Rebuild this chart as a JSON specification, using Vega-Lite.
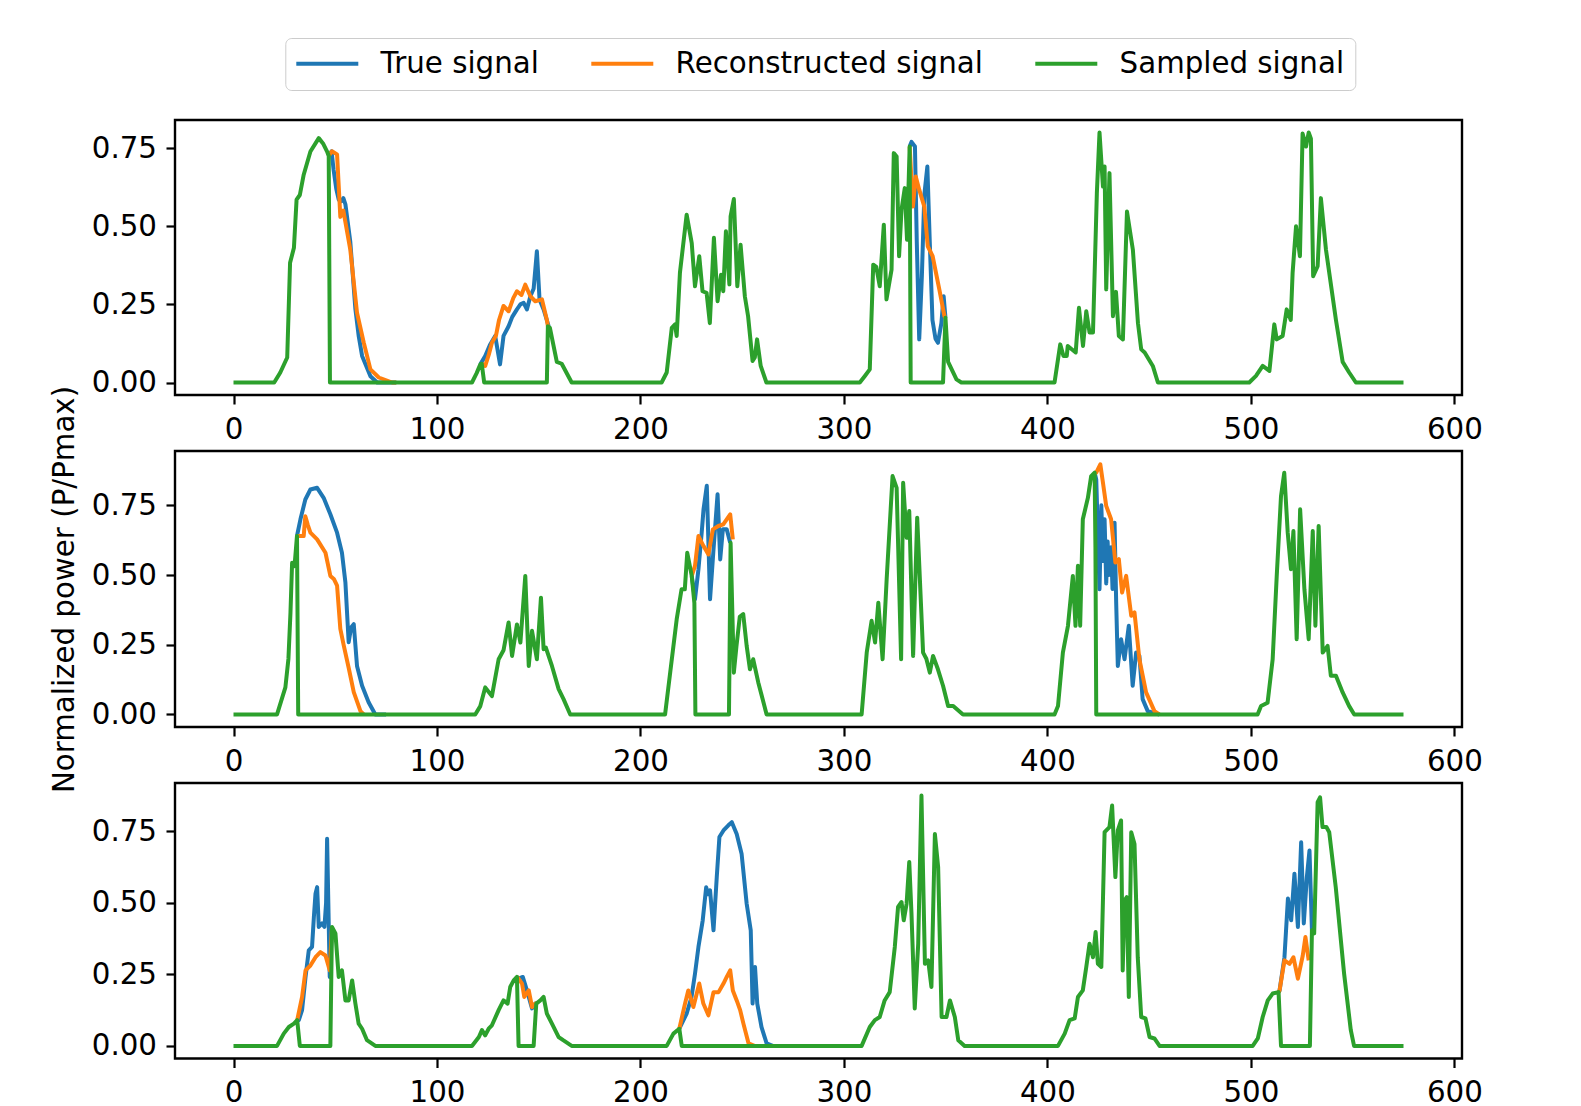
{
"$schema": "https://vega.github.io/schema/vega-lite/v6.json",
"background": "white",
"padding": {"left": 49, "top": 37, "right": 10, "bottom": 5},
"datasets": {
"p1": [
{"s":"True signal","g":"b1","x":46.8,"y":0.725},{"s":"True signal","g":"b1","x":48.2,"y":0.74},{"s":"True signal","g":"b1","x":49.2,"y":0.68},{"s":"True signal","g":"b1","x":50.5,"y":0.62},{"s":"True signal","g":"b1","x":51.7,"y":0.585},{"s":"True signal","g":"b1","x":53,"y":0.58},{"s":"True signal","g":"b1","x":54,"y":0.59},{"s":"True signal","g":"b1","x":55,"y":0.57},{"s":"True signal","g":"b1","x":56,"y":0.52},{"s":"True signal","g":"b1","x":57.4,"y":0.45},{"s":"True signal","g":"b1","x":59.9,"y":0.235},{"s":"True signal","g":"b1","x":61.5,"y":0.15},{"s":"True signal","g":"b1","x":63.2,"y":0.085},{"s":"True signal","g":"b1","x":67.3,"y":0.02},{"s":"True signal","g":"b1","x":70.6,"y":0},{"s":"True signal","g":"b1","x":80,"y":0},
{"s":"True signal","g":"b2","x":121.3,"y":0.058},{"s":"True signal","g":"b2","x":123.7,"y":0.085},{"s":"True signal","g":"b2","x":126,"y":0.12},{"s":"True signal","g":"b2","x":128.6,"y":0.149},{"s":"True signal","g":"b2","x":131,"y":0.058},{"s":"True signal","g":"b2","x":132.7,"y":0.149},{"s":"True signal","g":"b2","x":135.2,"y":0.18},{"s":"True signal","g":"b2","x":137,"y":0.21},{"s":"True signal","g":"b2","x":139.3,"y":0.234},{"s":"True signal","g":"b2","x":141,"y":0.25},{"s":"True signal","g":"b2","x":142.6,"y":0.255},{"s":"True signal","g":"b2","x":144.2,"y":0.234},{"s":"True signal","g":"b2","x":145.9,"y":0.276},{"s":"True signal","g":"b2","x":147.5,"y":0.3},{"s":"True signal","g":"b2","x":149.1,"y":0.42},{"s":"True signal","g":"b2","x":150.4,"y":0.266},{"s":"True signal","g":"b2","x":152.4,"y":0.234},{"s":"True signal","g":"b2","x":154.9,"y":0.18},
{"s":"True signal","g":"b3","x":332.3,"y":0.755},{"s":"True signal","g":"b3","x":333.2,"y":0.77},{"s":"True signal","g":"b3","x":334.9,"y":0.755},{"s":"True signal","g":"b3","x":335.8,"y":0.45},{"s":"True signal","g":"b3","x":337,"y":0.138},{"s":"True signal","g":"b3","x":338.3,"y":0.34},{"s":"True signal","g":"b3","x":339.5,"y":0.6},{"s":"True signal","g":"b3","x":341,"y":0.691},{"s":"True signal","g":"b3","x":342.2,"y":0.446},{"s":"True signal","g":"b3","x":343.5,"y":0.2},{"s":"True signal","g":"b3","x":345,"y":0.14},{"s":"True signal","g":"b3","x":346.2,"y":0.127},{"s":"True signal","g":"b3","x":347.9,"y":0.19},{"s":"True signal","g":"b3","x":349,"y":0.276},{"s":"True signal","g":"b3","x":349.9,"y":0.207},
{"s":"Reconstructed signal","g":"o1","x":46.8,"y":0.725},{"s":"Reconstructed signal","g":"o1","x":48.4,"y":0.74},{"s":"Reconstructed signal","g":"o1","x":50.9,"y":0.73},{"s":"Reconstructed signal","g":"o1","x":52.5,"y":0.53},{"s":"Reconstructed signal","g":"o1","x":54,"y":0.55},{"s":"Reconstructed signal","g":"o1","x":57.4,"y":0.425},{"s":"Reconstructed signal","g":"o1","x":60.7,"y":0.223},{"s":"Reconstructed signal","g":"o1","x":64,"y":0.128},{"s":"Reconstructed signal","g":"o1","x":67.3,"y":0.042},{"s":"Reconstructed signal","g":"o1","x":71.4,"y":0.016},{"s":"Reconstructed signal","g":"o1","x":78,"y":0},{"s":"Reconstructed signal","g":"o1","x":80,"y":0},
{"s":"Reconstructed signal","g":"o2","x":122,"y":0.06},{"s":"Reconstructed signal","g":"o2","x":123.7,"y":0.053},{"s":"Reconstructed signal","g":"o2","x":125.5,"y":0.09},{"s":"Reconstructed signal","g":"o2","x":127,"y":0.127},{"s":"Reconstructed signal","g":"o2","x":129,"y":0.15},{"s":"Reconstructed signal","g":"o2","x":130.5,"y":0.2},{"s":"Reconstructed signal","g":"o2","x":132.7,"y":0.245},{"s":"Reconstructed signal","g":"o2","x":135.2,"y":0.228},{"s":"Reconstructed signal","g":"o2","x":137.5,"y":0.27},{"s":"Reconstructed signal","g":"o2","x":139.3,"y":0.292},{"s":"Reconstructed signal","g":"o2","x":141.5,"y":0.28},{"s":"Reconstructed signal","g":"o2","x":143.4,"y":0.313},{"s":"Reconstructed signal","g":"o2","x":145.9,"y":0.276},{"s":"Reconstructed signal","g":"o2","x":148.3,"y":0.26},{"s":"Reconstructed signal","g":"o2","x":151.6,"y":0.266},{"s":"Reconstructed signal","g":"o2","x":154,"y":0.2},{"s":"Reconstructed signal","g":"o2","x":154.5,"y":0.18},
{"s":"Reconstructed signal","g":"o3","x":332.3,"y":0.755},{"s":"Reconstructed signal","g":"o3","x":333.9,"y":0.563},{"s":"Reconstructed signal","g":"o3","x":335.3,"y":0.659},{"s":"Reconstructed signal","g":"o3","x":337,"y":0.617},{"s":"Reconstructed signal","g":"o3","x":339.5,"y":0.563},{"s":"Reconstructed signal","g":"o3","x":341.2,"y":0.436},{"s":"Reconstructed signal","g":"o3","x":343.6,"y":0.404},{"s":"Reconstructed signal","g":"o3","x":346.9,"y":0.297},{"s":"Reconstructed signal","g":"o3","x":349.4,"y":0.212},{"s":"Reconstructed signal","g":"o3","x":349.9,"y":0.207},
{"s":"Sampled signal","g":"a","x":0,"y":0},{"s":"Sampled signal","g":"a","x":20,"y":0},{"s":"Sampled signal","g":"a","x":23,"y":0.032},{"s":"Sampled signal","g":"a","x":26.4,"y":0.08},{"s":"Sampled signal","g":"a","x":27.8,"y":0.383},{"s":"Sampled signal","g":"a","x":29.7,"y":0.431},{"s":"Sampled signal","g":"a","x":31,"y":0.585},{"s":"Sampled signal","g":"a","x":32.6,"y":0.6},{"s":"Sampled signal","g":"a","x":34.5,"y":0.665},{"s":"Sampled signal","g":"a","x":37.8,"y":0.739},{"s":"Sampled signal","g":"a","x":41.9,"y":0.782},{"s":"Sampled signal","g":"a","x":44,"y":0.765},{"s":"Sampled signal","g":"a","x":46,"y":0.739},{"s":"Sampled signal","g":"a","x":46.8,"y":0.725},{"s":"Sampled signal","g":"a","x":47.4,"y":0},{"s":"Sampled signal","g":"a","x":117.2,"y":0},{"s":"Sampled signal","g":"a","x":119.5,"y":0.03},{"s":"Sampled signal","g":"a","x":121.3,"y":0.058},{"s":"Sampled signal","g":"a","x":122,"y":0.06},{"s":"Sampled signal","g":"a","x":123.2,"y":0},{"s":"Sampled signal","g":"a","x":154,"y":0},{"s":"Sampled signal","g":"a","x":154.5,"y":0.18},{"s":"Sampled signal","g":"a","x":155.5,"y":0.175},{"s":"Sampled signal","g":"a","x":158.9,"y":0.066},{"s":"Sampled signal","g":"a","x":161.3,"y":0.06},{"s":"Sampled signal","g":"a","x":166.2,"y":0},{"s":"Sampled signal","g":"a","x":210.4,"y":0},{"s":"Sampled signal","g":"a","x":212.9,"y":0.032},{"s":"Sampled signal","g":"a","x":215.4,"y":0.175},{"s":"Sampled signal","g":"a","x":217,"y":0.186},{"s":"Sampled signal","g":"a","x":217.8,"y":0.149},{"s":"Sampled signal","g":"a","x":219.4,"y":0.351},{"s":"Sampled signal","g":"a","x":222.7,"y":0.537},{"s":"Sampled signal","g":"a","x":225.2,"y":0.446},{"s":"Sampled signal","g":"a","x":226.8,"y":0.308},{"s":"Sampled signal","g":"a","x":228.9,"y":0.404},{"s":"Sampled signal","g":"a","x":230.5,"y":0.292},{"s":"Sampled signal","g":"a","x":232.5,"y":0.287},{"s":"Sampled signal","g":"a","x":234.1,"y":0.19},{"s":"Sampled signal","g":"a","x":236.1,"y":0.463},{"s":"Sampled signal","g":"a","x":237.9,"y":0.26},{"s":"Sampled signal","g":"a","x":239.6,"y":0.345},{"s":"Sampled signal","g":"a","x":240.7,"y":0.292},{"s":"Sampled signal","g":"a","x":242,"y":0.484},{"s":"Sampled signal","g":"a","x":243.7,"y":0.314},{"s":"Sampled signal","g":"a","x":244.3,"y":0.532},{"s":"Sampled signal","g":"a","x":245.9,"y":0.587},{"s":"Sampled signal","g":"a","x":247.6,"y":0.308},{"s":"Sampled signal","g":"a","x":249.2,"y":0.441},{"s":"Sampled signal","g":"a","x":251.3,"y":0.276},{"s":"Sampled signal","g":"a","x":252.9,"y":0.212},{"s":"Sampled signal","g":"a","x":255.1,"y":0.069},{"s":"Sampled signal","g":"a","x":256.2,"y":0.08},{"s":"Sampled signal","g":"a","x":257.3,"y":0.138},{"s":"Sampled signal","g":"a","x":259.1,"y":0.053},{"s":"Sampled signal","g":"a","x":261.9,"y":0},{"s":"Sampled signal","g":"a","x":307.8,"y":0},{"s":"Sampled signal","g":"a","x":310.3,"y":0.021},{"s":"Sampled signal","g":"a","x":312.7,"y":0.042},{"s":"Sampled signal","g":"a","x":314.4,"y":0.377},{"s":"Sampled signal","g":"a","x":315.9,"y":0.37},{"s":"Sampled signal","g":"a","x":317.6,"y":0.308},{"s":"Sampled signal","g":"a","x":319.6,"y":0.505},{"s":"Sampled signal","g":"a","x":320.9,"y":0.266},{"s":"Sampled signal","g":"a","x":323.4,"y":0.361},{"s":"Sampled signal","g":"a","x":324.5,"y":0.734},{"s":"Sampled signal","g":"a","x":325.9,"y":0.723},{"s":"Sampled signal","g":"a","x":327.1,"y":0.404},{"s":"Sampled signal","g":"a","x":328.3,"y":0.553},{"s":"Sampled signal","g":"a","x":329.9,"y":0.622},{"s":"Sampled signal","g":"a","x":331,"y":0.457},{"s":"Sampled signal","g":"a","x":332.3,"y":0.755},{"s":"Sampled signal","g":"a","x":332.8,"y":0},{"s":"Sampled signal","g":"a","x":348.7,"y":0},{"s":"Sampled signal","g":"a","x":349.9,"y":0.207},{"s":"Sampled signal","g":"a","x":351.2,"y":0.066},{"s":"Sampled signal","g":"a","x":355.3,"y":0.01},{"s":"Sampled signal","g":"a","x":357.7,"y":0},{"s":"Sampled signal","g":"a","x":403.5,"y":0},{"s":"Sampled signal","g":"a","x":406.3,"y":0.122},{"s":"Sampled signal","g":"a","x":407.9,"y":0.085},{"s":"Sampled signal","g":"a","x":409.5,"y":0.085},{"s":"Sampled signal","g":"a","x":410,"y":0.117},{"s":"Sampled signal","g":"a","x":413.9,"y":0.096},{"s":"Sampled signal","g":"a","x":415.5,"y":0.239},{"s":"Sampled signal","g":"a","x":417.5,"y":0.117},{"s":"Sampled signal","g":"a","x":419.1,"y":0.228},{"s":"Sampled signal","g":"a","x":420.7,"y":0.16},{"s":"Sampled signal","g":"a","x":422.4,"y":0.16},{"s":"Sampled signal","g":"a","x":424.3,"y":0.606},{"s":"Sampled signal","g":"a","x":425.6,"y":0.8},{"s":"Sampled signal","g":"a","x":427.3,"y":0.627},{"s":"Sampled signal","g":"a","x":428.1,"y":0.691},{"s":"Sampled signal","g":"a","x":428.9,"y":0.298},{"s":"Sampled signal","g":"a","x":430.5,"y":0.67},{"s":"Sampled signal","g":"a","x":432.2,"y":0.212},{"s":"Sampled signal","g":"a","x":433.7,"y":0.29},{"s":"Sampled signal","g":"a","x":435.1,"y":0.149},{"s":"Sampled signal","g":"a","x":437.1,"y":0.138},{"s":"Sampled signal","g":"a","x":439.1,"y":0.547},{"s":"Sampled signal","g":"a","x":442,"y":0.425},{"s":"Sampled signal","g":"a","x":444.5,"y":0.19},{"s":"Sampled signal","g":"a","x":446.1,"y":0.106},{"s":"Sampled signal","g":"a","x":447.8,"y":0.096},{"s":"Sampled signal","g":"a","x":451.8,"y":0.053},{"s":"Sampled signal","g":"a","x":454.3,"y":0},{"s":"Sampled signal","g":"a","x":499.2,"y":0},{"s":"Sampled signal","g":"a","x":502.5,"y":0.021},{"s":"Sampled signal","g":"a","x":505.8,"y":0.053},{"s":"Sampled signal","g":"a","x":509.1,"y":0.037},{"s":"Sampled signal","g":"a","x":511.5,"y":0.186},{"s":"Sampled signal","g":"a","x":512.7,"y":0.138},{"s":"Sampled signal","g":"a","x":515.6,"y":0.149},{"s":"Sampled signal","g":"a","x":517.6,"y":0.234},{"s":"Sampled signal","g":"a","x":519.6,"y":0.2},{"s":"Sampled signal","g":"a","x":520.5,"y":0.351},{"s":"Sampled signal","g":"a","x":522.2,"y":0.5},{"s":"Sampled signal","g":"a","x":524.1,"y":0.404},{"s":"Sampled signal","g":"a","x":525.4,"y":0.797},{"s":"Sampled signal","g":"a","x":527.1,"y":0.755},{"s":"Sampled signal","g":"a","x":528.4,"y":0.8},{"s":"Sampled signal","g":"a","x":529.5,"y":0.78},{"s":"Sampled signal","g":"a","x":530.6,"y":0.34},{"s":"Sampled signal","g":"a","x":532.8,"y":0.372},{"s":"Sampled signal","g":"a","x":534.4,"y":0.59},{"s":"Sampled signal","g":"a","x":536.9,"y":0.425},{"s":"Sampled signal","g":"a","x":541.8,"y":0.2},{"s":"Sampled signal","g":"a","x":545.1,"y":0.066},{"s":"Sampled signal","g":"a","x":548.3,"y":0.032},{"s":"Sampled signal","g":"a","x":551.6,"y":0},{"s":"Sampled signal","g":"a","x":575,"y":0}
],
"p2": [
{"s":"True signal","g":"b1","x":31.2,"y":0.64},{"s":"True signal","g":"b1","x":32.9,"y":0.7},{"s":"True signal","g":"b1","x":35.3,"y":0.771},{"s":"True signal","g":"b1","x":37.8,"y":0.807},{"s":"True signal","g":"b1","x":41.1,"y":0.813},{"s":"True signal","g":"b1","x":44.3,"y":0.777},{"s":"True signal","g":"b1","x":47.6,"y":0.718},{"s":"True signal","g":"b1","x":50.9,"y":0.652},{"s":"True signal","g":"b1","x":53.3,"y":0.58},{"s":"True signal","g":"b1","x":55,"y":0.473},{"s":"True signal","g":"b1","x":56.6,"y":0.259},{"s":"True signal","g":"b1","x":57.8,"y":0.312},{"s":"True signal","g":"b1","x":59.1,"y":0.324},{"s":"True signal","g":"b1","x":60.7,"y":0.174},{"s":"True signal","g":"b1","x":63.2,"y":0.103},{"s":"True signal","g":"b1","x":66.4,"y":0.044},{"s":"True signal","g":"b1","x":69.7,"y":0},{"s":"True signal","g":"b1","x":75,"y":0},
{"s":"True signal","g":"b2","x":225.2,"y":0.497},{"s":"True signal","g":"b2","x":226.8,"y":0.413},{"s":"True signal","g":"b2","x":228.5,"y":0.521},{"s":"True signal","g":"b2","x":230.1,"y":0.652},{"s":"True signal","g":"b2","x":231,"y":0.736},{"s":"True signal","g":"b2","x":232.6,"y":0.82},{"s":"True signal","g":"b2","x":234.2,"y":0.413},{"s":"True signal","g":"b2","x":235.9,"y":0.592},{"s":"True signal","g":"b2","x":237.9,"y":0.79},{"s":"True signal","g":"b2","x":239.2,"y":0.556},{"s":"True signal","g":"b2","x":240.5,"y":0.664},{"s":"True signal","g":"b2","x":242.4,"y":0.664},{"s":"True signal","g":"b2","x":244.1,"y":0.616},
{"s":"True signal","g":"b3","x":423.2,"y":0.867},{"s":"True signal","g":"b3","x":424,"y":0.843},{"s":"True signal","g":"b3","x":425.6,"y":0.449},{"s":"True signal","g":"b3","x":426.5,"y":0.75},{"s":"True signal","g":"b3","x":427.3,"y":0.55},{"s":"True signal","g":"b3","x":428.1,"y":0.7},{"s":"True signal","g":"b3","x":428.9,"y":0.47},{"s":"True signal","g":"b3","x":429.6,"y":0.62},{"s":"True signal","g":"b3","x":430.2,"y":0.5},{"s":"True signal","g":"b3","x":431.3,"y":0.6},{"s":"True signal","g":"b3","x":432,"y":0.45},{"s":"True signal","g":"b3","x":433,"y":0.688},{"s":"True signal","g":"b3","x":433.8,"y":0.4},{"s":"True signal","g":"b3","x":434.6,"y":0.174},{"s":"True signal","g":"b3","x":436.2,"y":0.27},{"s":"True signal","g":"b3","x":437.9,"y":0.198},{"s":"True signal","g":"b3","x":440,"y":0.318},{"s":"True signal","g":"b3","x":441.9,"y":0.103},{"s":"True signal","g":"b3","x":443.6,"y":0.222},{"s":"True signal","g":"b3","x":445.2,"y":0.21},{"s":"True signal","g":"b3","x":446.8,"y":0.055},{"s":"True signal","g":"b3","x":449.3,"y":0.012},{"s":"True signal","g":"b3","x":455,"y":0},
{"s":"Reconstructed signal","g":"o1","x":31.2,"y":0.64},{"s":"Reconstructed signal","g":"o1","x":34.5,"y":0.64},{"s":"Reconstructed signal","g":"o1","x":35.3,"y":0.711},{"s":"Reconstructed signal","g":"o1","x":36.5,"y":0.68},{"s":"Reconstructed signal","g":"o1","x":37.8,"y":0.652},{"s":"Reconstructed signal","g":"o1","x":41.1,"y":0.628},{"s":"Reconstructed signal","g":"o1","x":45.2,"y":0.58},{"s":"Reconstructed signal","g":"o1","x":47.6,"y":0.497},{"s":"Reconstructed signal","g":"o1","x":49.3,"y":0.486},{"s":"Reconstructed signal","g":"o1","x":50.9,"y":0.462},{"s":"Reconstructed signal","g":"o1","x":52.5,"y":0.307},{"s":"Reconstructed signal","g":"o1","x":54.2,"y":0.247},{"s":"Reconstructed signal","g":"o1","x":56.7,"y":0.164},{"s":"Reconstructed signal","g":"o1","x":59.1,"y":0.08},{"s":"Reconstructed signal","g":"o1","x":62.4,"y":0.012},{"s":"Reconstructed signal","g":"o1","x":64,"y":0},
{"s":"Reconstructed signal","g":"o2","x":225.2,"y":0.497},{"s":"Reconstructed signal","g":"o2","x":226.8,"y":0.533},{"s":"Reconstructed signal","g":"o2","x":228.5,"y":0.64},{"s":"Reconstructed signal","g":"o2","x":231,"y":0.604},{"s":"Reconstructed signal","g":"o2","x":233.4,"y":0.574},{"s":"Reconstructed signal","g":"o2","x":235.6,"y":0.664},{"s":"Reconstructed signal","g":"o2","x":238.3,"y":0.676},{"s":"Reconstructed signal","g":"o2","x":240.7,"y":0.682},{"s":"Reconstructed signal","g":"o2","x":242.4,"y":0.7},{"s":"Reconstructed signal","g":"o2","x":244.1,"y":0.718},{"s":"Reconstructed signal","g":"o2","x":245.4,"y":0.628},
{"s":"Reconstructed signal","g":"o3","x":423.2,"y":0.867},{"s":"Reconstructed signal","g":"o3","x":424,"y":0.867},{"s":"Reconstructed signal","g":"o3","x":426,"y":0.897},{"s":"Reconstructed signal","g":"o3","x":427.3,"y":0.831},{"s":"Reconstructed signal","g":"o3","x":428.9,"y":0.748},{"s":"Reconstructed signal","g":"o3","x":431.3,"y":0.7},{"s":"Reconstructed signal","g":"o3","x":433.4,"y":0.545},{"s":"Reconstructed signal","g":"o3","x":435.1,"y":0.557},{"s":"Reconstructed signal","g":"o3","x":436.7,"y":0.437},{"s":"Reconstructed signal","g":"o3","x":438.7,"y":0.497},{"s":"Reconstructed signal","g":"o3","x":441.2,"y":0.354},{"s":"Reconstructed signal","g":"o3","x":442.8,"y":0.366},{"s":"Reconstructed signal","g":"o3","x":445.2,"y":0.198},{"s":"Reconstructed signal","g":"o3","x":448.5,"y":0.079},{"s":"Reconstructed signal","g":"o3","x":452.6,"y":0.012},{"s":"Reconstructed signal","g":"o3","x":455,"y":0},
{"s":"Sampled signal","g":"a","x":0,"y":0},{"s":"Sampled signal","g":"a","x":21.4,"y":0},{"s":"Sampled signal","g":"a","x":25.5,"y":0.097},{"s":"Sampled signal","g":"a","x":27,"y":0.2},{"s":"Sampled signal","g":"a","x":28,"y":0.365},{"s":"Sampled signal","g":"a","x":28.8,"y":0.544},{"s":"Sampled signal","g":"a","x":30,"y":0.532},{"s":"Sampled signal","g":"a","x":31.2,"y":0.64},{"s":"Sampled signal","g":"a","x":31.8,"y":0},{"s":"Sampled signal","g":"a","x":118.8,"y":0},{"s":"Sampled signal","g":"a","x":121.3,"y":0.03},{"s":"Sampled signal","g":"a","x":123.7,"y":0.097},{"s":"Sampled signal","g":"a","x":127,"y":0.066},{"s":"Sampled signal","g":"a","x":130.3,"y":0.198},{"s":"Sampled signal","g":"a","x":132.7,"y":0.23},{"s":"Sampled signal","g":"a","x":135.2,"y":0.33},{"s":"Sampled signal","g":"a","x":136.9,"y":0.21},{"s":"Sampled signal","g":"a","x":139.3,"y":0.323},{"s":"Sampled signal","g":"a","x":141,"y":0.258},{"s":"Sampled signal","g":"a","x":143.4,"y":0.497},{"s":"Sampled signal","g":"a","x":145.1,"y":0.174},{"s":"Sampled signal","g":"a","x":146.7,"y":0.3},{"s":"Sampled signal","g":"a","x":149.1,"y":0.198},{"s":"Sampled signal","g":"a","x":151.1,"y":0.419},{"s":"Sampled signal","g":"a","x":152.4,"y":0.234},{"s":"Sampled signal","g":"a","x":153.5,"y":0.24},{"s":"Sampled signal","g":"a","x":156.5,"y":0.174},{"s":"Sampled signal","g":"a","x":159.8,"y":0.091},{"s":"Sampled signal","g":"a","x":162.2,"y":0.055},{"s":"Sampled signal","g":"a","x":165.5,"y":0},{"s":"Sampled signal","g":"a","x":212.1,"y":0},{"s":"Sampled signal","g":"a","x":214.6,"y":0.15},{"s":"Sampled signal","g":"a","x":217.8,"y":0.341},{"s":"Sampled signal","g":"a","x":220.2,"y":0.449},{"s":"Sampled signal","g":"a","x":221.8,"y":0.449},{"s":"Sampled signal","g":"a","x":223,"y":0.58},{"s":"Sampled signal","g":"a","x":225.2,"y":0.497},{"s":"Sampled signal","g":"a","x":226.5,"y":0.4},{"s":"Sampled signal","g":"a","x":227,"y":0},{"s":"Sampled signal","g":"a","x":243.5,"y":0},{"s":"Sampled signal","g":"a","x":244.3,"y":0.616},{"s":"Sampled signal","g":"a","x":245.9,"y":0.15},{"s":"Sampled signal","g":"a","x":247.2,"y":0.246},{"s":"Sampled signal","g":"a","x":248.8,"y":0.35},{"s":"Sampled signal","g":"a","x":250.5,"y":0.36},{"s":"Sampled signal","g":"a","x":252.2,"y":0.246},{"s":"Sampled signal","g":"a","x":253.8,"y":0.162},{"s":"Sampled signal","g":"a","x":255.4,"y":0.198},{"s":"Sampled signal","g":"a","x":257.9,"y":0.115},{"s":"Sampled signal","g":"a","x":262,"y":0},{"s":"Sampled signal","g":"a","x":308.7,"y":0},{"s":"Sampled signal","g":"a","x":311.2,"y":0.222},{"s":"Sampled signal","g":"a","x":313.6,"y":0.336},{"s":"Sampled signal","g":"a","x":315.3,"y":0.258},{"s":"Sampled signal","g":"a","x":316.9,"y":0.401},{"s":"Sampled signal","g":"a","x":319,"y":0.198},{"s":"Sampled signal","g":"a","x":321,"y":0.485},{"s":"Sampled signal","g":"a","x":323.9,"y":0.855},{"s":"Sampled signal","g":"a","x":325.9,"y":0.813},{"s":"Sampled signal","g":"a","x":328.1,"y":0.198},{"s":"Sampled signal","g":"a","x":329.1,"y":0.831},{"s":"Sampled signal","g":"a","x":330.8,"y":0.634},{"s":"Sampled signal","g":"a","x":332.1,"y":0.73},{"s":"Sampled signal","g":"a","x":334,"y":0.21},{"s":"Sampled signal","g":"a","x":336,"y":0.706},{"s":"Sampled signal","g":"a","x":338.9,"y":0.222},{"s":"Sampled signal","g":"a","x":340.5,"y":0.2},{"s":"Sampled signal","g":"a","x":342.2,"y":0.15},{"s":"Sampled signal","g":"a","x":343.8,"y":0.21},{"s":"Sampled signal","g":"a","x":346.2,"y":0.162},{"s":"Sampled signal","g":"a","x":348.7,"y":0.103},{"s":"Sampled signal","g":"a","x":351.2,"y":0.03},{"s":"Sampled signal","g":"a","x":353.7,"y":0.03},{"s":"Sampled signal","g":"a","x":358.5,"y":0},{"s":"Sampled signal","g":"a","x":403.5,"y":0},{"s":"Sampled signal","g":"a","x":405.2,"y":0.03},{"s":"Sampled signal","g":"a","x":407.6,"y":0.222},{"s":"Sampled signal","g":"a","x":410.1,"y":0.318},{"s":"Sampled signal","g":"a","x":412.5,"y":0.497},{"s":"Sampled signal","g":"a","x":413.8,"y":0.318},{"s":"Sampled signal","g":"a","x":415,"y":0.533},{"s":"Sampled signal","g":"a","x":416.1,"y":0.318},{"s":"Sampled signal","g":"a","x":417.4,"y":0.7},{"s":"Sampled signal","g":"a","x":419.9,"y":0.777},{"s":"Sampled signal","g":"a","x":421.5,"y":0.855},{"s":"Sampled signal","g":"a","x":423.2,"y":0.867},{"s":"Sampled signal","g":"a","x":423.6,"y":0.6},{"s":"Sampled signal","g":"a","x":424,"y":0},{"s":"Sampled signal","g":"a","x":503.3,"y":0},{"s":"Sampled signal","g":"a","x":505,"y":0.03},{"s":"Sampled signal","g":"a","x":508.2,"y":0.042},{"s":"Sampled signal","g":"a","x":510.7,"y":0.198},{"s":"Sampled signal","g":"a","x":512.7,"y":0.497},{"s":"Sampled signal","g":"a","x":514.8,"y":0.783},{"s":"Sampled signal","g":"a","x":516.4,"y":0.867},{"s":"Sampled signal","g":"a","x":518.1,"y":0.652},{"s":"Sampled signal","g":"a","x":519.7,"y":0.521},{"s":"Sampled signal","g":"a","x":520.9,"y":0.658},{"s":"Sampled signal","g":"a","x":522.5,"y":0.27},{"s":"Sampled signal","g":"a","x":524.2,"y":0.736},{"s":"Sampled signal","g":"a","x":526.3,"y":0.449},{"s":"Sampled signal","g":"a","x":528.4,"y":0.27},{"s":"Sampled signal","g":"a","x":530.4,"y":0.658},{"s":"Sampled signal","g":"a","x":531.7,"y":0.318},{"s":"Sampled signal","g":"a","x":533.3,"y":0.676},{"s":"Sampled signal","g":"a","x":535.3,"y":0.222},{"s":"Sampled signal","g":"a","x":537.7,"y":0.246},{"s":"Sampled signal","g":"a","x":539.3,"y":0.139},{"s":"Sampled signal","g":"a","x":541.8,"y":0.139},{"s":"Sampled signal","g":"a","x":545.1,"y":0.079},{"s":"Sampled signal","g":"a","x":548.3,"y":0.03},{"s":"Sampled signal","g":"a","x":550.8,"y":0},{"s":"Sampled signal","g":"a","x":575,"y":0}
],
"p3": [
{"s":"True signal","g":"b1","x":31.3,"y":0.09},{"s":"True signal","g":"b1","x":32.1,"y":0.09},{"s":"True signal","g":"b1","x":33.7,"y":0.125},{"s":"True signal","g":"b1","x":35.4,"y":0.241},{"s":"True signal","g":"b1","x":37,"y":0.334},{"s":"True signal","g":"b1","x":38.6,"y":0.346},{"s":"True signal","g":"b1","x":39.5,"y":0.45},{"s":"True signal","g":"b1","x":40.3,"y":0.532},{"s":"True signal","g":"b1","x":41.1,"y":0.555},{"s":"True signal","g":"b1","x":41.9,"y":0.416},{"s":"True signal","g":"b1","x":43.5,"y":0.428},{"s":"True signal","g":"b1","x":44.7,"y":0.416},{"s":"True signal","g":"b1","x":45.5,"y":0.5},{"s":"True signal","g":"b1","x":46,"y":0.724},{"s":"True signal","g":"b1","x":47.3,"y":0.241},{"s":"True signal","g":"b1","x":48.4,"y":0.416},
{"s":"True signal","g":"b2","x":139.3,"y":0.241},{"s":"True signal","g":"b2","x":140.1,"y":0.235},{"s":"True signal","g":"b2","x":142.2,"y":0.241},{"s":"True signal","g":"b2","x":144.2,"y":0.194},{"s":"True signal","g":"b2","x":146.7,"y":0.131},{"s":"True signal","g":"b2","x":148.3,"y":0.148},{"s":"True signal","g":"b2","x":148.8,"y":0.148},
{"s":"True signal","g":"b3","x":219.1,"y":0.06},{"s":"True signal","g":"b3","x":222.7,"y":0.113},{"s":"True signal","g":"b3","x":225.1,"y":0.171},{"s":"True signal","g":"b3","x":226.8,"y":0.252},{"s":"True signal","g":"b3","x":228.5,"y":0.346},{"s":"True signal","g":"b3","x":230.6,"y":0.439},{"s":"True signal","g":"b3","x":232.3,"y":0.555},{"s":"True signal","g":"b3","x":233.2,"y":0.53},{"s":"True signal","g":"b3","x":234.2,"y":0.544},{"s":"True signal","g":"b3","x":235.9,"y":0.404},{"s":"True signal","g":"b3","x":237.5,"y":0.59},{"s":"True signal","g":"b3","x":238.8,"y":0.73},{"s":"True signal","g":"b3","x":240.8,"y":0.753},{"s":"True signal","g":"b3","x":243.2,"y":0.771},{"s":"True signal","g":"b3","x":244.9,"y":0.782},{"s":"True signal","g":"b3","x":247.3,"y":0.741},{"s":"True signal","g":"b3","x":249.7,"y":0.672},{"s":"True signal","g":"b3","x":252.2,"y":0.497},{"s":"True signal","g":"b3","x":254.2,"y":0.404},{"s":"True signal","g":"b3","x":255.1,"y":0.148},{"s":"True signal","g":"b3","x":256.3,"y":0.276},{"s":"True signal","g":"b3","x":257.4,"y":0.148},{"s":"True signal","g":"b3","x":259.5,"y":0.066},{"s":"True signal","g":"b3","x":262,"y":0.009},{"s":"True signal","g":"b3","x":265,"y":0},
{"s":"True signal","g":"b4","x":513.6,"y":0.188},{"s":"True signal","g":"b4","x":514.1,"y":0.194},{"s":"True signal","g":"b4","x":516.5,"y":0.31},{"s":"True signal","g":"b4","x":518.2,"y":0.515},{"s":"True signal","g":"b4","x":519.8,"y":0.439},{"s":"True signal","g":"b4","x":521.4,"y":0.602},{"s":"True signal","g":"b4","x":523.1,"y":0.416},{"s":"True signal","g":"b4","x":524.7,"y":0.712},{"s":"True signal","g":"b4","x":526,"y":0.428},{"s":"True signal","g":"b4","x":527.5,"y":0.59},{"s":"True signal","g":"b4","x":528.8,"y":0.683},{"s":"True signal","g":"b4","x":530,"y":0.404},
{"s":"Reconstructed signal","g":"o1","x":31.3,"y":0.09},{"s":"Reconstructed signal","g":"o1","x":33.7,"y":0.171},{"s":"Reconstructed signal","g":"o1","x":35.4,"y":0.264},{"s":"Reconstructed signal","g":"o1","x":37.8,"y":0.281},{"s":"Reconstructed signal","g":"o1","x":40.3,"y":0.31},{"s":"Reconstructed signal","g":"o1","x":42.7,"y":0.328},{"s":"Reconstructed signal","g":"o1","x":45.2,"y":0.316},{"s":"Reconstructed signal","g":"o1","x":47.3,"y":0.264},{"s":"Reconstructed signal","g":"o1","x":48.4,"y":0.416},
{"s":"Reconstructed signal","g":"o2","x":139.3,"y":0.241},{"s":"Reconstructed signal","g":"o2","x":140.1,"y":0.235},{"s":"Reconstructed signal","g":"o2","x":141.8,"y":0.218},{"s":"Reconstructed signal","g":"o2","x":142.9,"y":0.171},{"s":"Reconstructed signal","g":"o2","x":145.1,"y":0.194},{"s":"Reconstructed signal","g":"o2","x":146.7,"y":0.136},{"s":"Reconstructed signal","g":"o2","x":148.3,"y":0.148},{"s":"Reconstructed signal","g":"o2","x":148.8,"y":0.148},
{"s":"Reconstructed signal","g":"o3","x":219.1,"y":0.06},{"s":"Reconstructed signal","g":"o3","x":221.9,"y":0.148},{"s":"Reconstructed signal","g":"o3","x":223.5,"y":0.194},{"s":"Reconstructed signal","g":"o3","x":226,"y":0.136},{"s":"Reconstructed signal","g":"o3","x":228.9,"y":0.218},{"s":"Reconstructed signal","g":"o3","x":230.9,"y":0.148},{"s":"Reconstructed signal","g":"o3","x":233.4,"y":0.107},{"s":"Reconstructed signal","g":"o3","x":235.9,"y":0.188},{"s":"Reconstructed signal","g":"o3","x":238.4,"y":0.188},{"s":"Reconstructed signal","g":"o3","x":240.8,"y":0.218},{"s":"Reconstructed signal","g":"o3","x":242.4,"y":0.241},{"s":"Reconstructed signal","g":"o3","x":244.1,"y":0.264},{"s":"Reconstructed signal","g":"o3","x":245.4,"y":0.194},{"s":"Reconstructed signal","g":"o3","x":247.3,"y":0.159},{"s":"Reconstructed signal","g":"o3","x":249,"y":0.125},{"s":"Reconstructed signal","g":"o3","x":250.6,"y":0.078},{"s":"Reconstructed signal","g":"o3","x":253.1,"y":0.009},{"s":"Reconstructed signal","g":"o3","x":256,"y":0},
{"s":"Reconstructed signal","g":"o4","x":513.6,"y":0.188},{"s":"Reconstructed signal","g":"o4","x":514.1,"y":0.194},{"s":"Reconstructed signal","g":"o4","x":516.5,"y":0.299},{"s":"Reconstructed signal","g":"o4","x":519,"y":0.287},{"s":"Reconstructed signal","g":"o4","x":520.9,"y":0.31},{"s":"Reconstructed signal","g":"o4","x":523.1,"y":0.235},{"s":"Reconstructed signal","g":"o4","x":525.5,"y":0.316},{"s":"Reconstructed signal","g":"o4","x":526.8,"y":0.381},{"s":"Reconstructed signal","g":"o4","x":528.4,"y":0.299},
{"s":"Sampled signal","g":"a","x":0,"y":0},{"s":"Sampled signal","g":"a","x":21.4,"y":0},{"s":"Sampled signal","g":"a","x":24.7,"y":0.043},{"s":"Sampled signal","g":"a","x":27.2,"y":0.066},{"s":"Sampled signal","g":"a","x":29.7,"y":0.078},{"s":"Sampled signal","g":"a","x":31.3,"y":0.09},{"s":"Sampled signal","g":"a","x":32.6,"y":0},{"s":"Sampled signal","g":"a","x":47.6,"y":0},{"s":"Sampled signal","g":"a","x":48.4,"y":0.416},{"s":"Sampled signal","g":"a","x":50.1,"y":0.393},{"s":"Sampled signal","g":"a","x":51.7,"y":0.241},{"s":"Sampled signal","g":"a","x":53.3,"y":0.264},{"s":"Sampled signal","g":"a","x":55,"y":0.159},{"s":"Sampled signal","g":"a","x":56.6,"y":0.159},{"s":"Sampled signal","g":"a","x":58.3,"y":0.229},{"s":"Sampled signal","g":"a","x":59.9,"y":0.148},{"s":"Sampled signal","g":"a","x":61.5,"y":0.078},{"s":"Sampled signal","g":"a","x":63.2,"y":0.06},{"s":"Sampled signal","g":"a","x":65.6,"y":0.02},{"s":"Sampled signal","g":"a","x":69.7,"y":0},{"s":"Sampled signal","g":"a","x":117.2,"y":0},{"s":"Sampled signal","g":"a","x":120.6,"y":0.031},{"s":"Sampled signal","g":"a","x":122.1,"y":0.055},{"s":"Sampled signal","g":"a","x":123.7,"y":0.037},{"s":"Sampled signal","g":"a","x":125.4,"y":0.06},{"s":"Sampled signal","g":"a","x":127,"y":0.072},{"s":"Sampled signal","g":"a","x":130.3,"y":0.125},{"s":"Sampled signal","g":"a","x":132.7,"y":0.159},{"s":"Sampled signal","g":"a","x":134.7,"y":0.148},{"s":"Sampled signal","g":"a","x":136,"y":0.206},{"s":"Sampled signal","g":"a","x":137.7,"y":0.229},{"s":"Sampled signal","g":"a","x":139.3,"y":0.241},{"s":"Sampled signal","g":"a","x":140.1,"y":0},{"s":"Sampled signal","g":"a","x":147.5,"y":0},{"s":"Sampled signal","g":"a","x":148.8,"y":0.148},{"s":"Sampled signal","g":"a","x":150.8,"y":0.159},{"s":"Sampled signal","g":"a","x":152.4,"y":0.171},{"s":"Sampled signal","g":"a","x":154,"y":0.113},{"s":"Sampled signal","g":"a","x":156.5,"y":0.078},{"s":"Sampled signal","g":"a","x":159.8,"y":0.031},{"s":"Sampled signal","g":"a","x":162,"y":0.02},{"s":"Sampled signal","g":"a","x":166.2,"y":0},{"s":"Sampled signal","g":"a","x":212.9,"y":0},{"s":"Sampled signal","g":"a","x":216.2,"y":0.043},{"s":"Sampled signal","g":"a","x":219.1,"y":0.06},{"s":"Sampled signal","g":"a","x":220.3,"y":0},{"s":"Sampled signal","g":"a","x":308.7,"y":0},{"s":"Sampled signal","g":"a","x":312.7,"y":0.066},{"s":"Sampled signal","g":"a","x":315.2,"y":0.09},{"s":"Sampled signal","g":"a","x":317.6,"y":0.101},{"s":"Sampled signal","g":"a","x":320,"y":0.159},{"s":"Sampled signal","g":"a","x":322.5,"y":0.188},{"s":"Sampled signal","g":"a","x":325,"y":0.346},{"s":"Sampled signal","g":"a","x":326.6,"y":0.486},{"s":"Sampled signal","g":"a","x":328.3,"y":0.503},{"s":"Sampled signal","g":"a","x":329.4,"y":0.439},{"s":"Sampled signal","g":"a","x":330.8,"y":0.497},{"s":"Sampled signal","g":"a","x":332.1,"y":0.643},{"s":"Sampled signal","g":"a","x":333.2,"y":0.462},{"s":"Sampled signal","g":"a","x":334.8,"y":0.131},{"s":"Sampled signal","g":"a","x":336.5,"y":0.357},{"s":"Sampled signal","g":"a","x":338.1,"y":0.875},{"s":"Sampled signal","g":"a","x":339.8,"y":0.287},{"s":"Sampled signal","g":"a","x":341.4,"y":0.299},{"s":"Sampled signal","g":"a","x":343,"y":0.206},{"s":"Sampled signal","g":"a","x":344.7,"y":0.741},{"s":"Sampled signal","g":"a","x":346.3,"y":0.625},{"s":"Sampled signal","g":"a","x":348,"y":0.101},{"s":"Sampled signal","g":"a","x":350.4,"y":0.101},{"s":"Sampled signal","g":"a","x":352.1,"y":0.159},{"s":"Sampled signal","g":"a","x":354.5,"y":0.101},{"s":"Sampled signal","g":"a","x":356.2,"y":0.02},{"s":"Sampled signal","g":"a","x":359.3,"y":0},{"s":"Sampled signal","g":"a","x":405.2,"y":0},{"s":"Sampled signal","g":"a","x":408.5,"y":0.043},{"s":"Sampled signal","g":"a","x":410.9,"y":0.09},{"s":"Sampled signal","g":"a","x":413.4,"y":0.096},{"s":"Sampled signal","g":"a","x":415,"y":0.171},{"s":"Sampled signal","g":"a","x":417.4,"y":0.194},{"s":"Sampled signal","g":"a","x":419.1,"y":0.276},{"s":"Sampled signal","g":"a","x":420.7,"y":0.357},{"s":"Sampled signal","g":"a","x":422.4,"y":0.31},{"s":"Sampled signal","g":"a","x":423.7,"y":0.398},{"s":"Sampled signal","g":"a","x":424.8,"y":0.287},{"s":"Sampled signal","g":"a","x":426.5,"y":0.276},{"s":"Sampled signal","g":"a","x":428.1,"y":0.747},{"s":"Sampled signal","g":"a","x":430.5,"y":0.765},{"s":"Sampled signal","g":"a","x":431.8,"y":0.84},{"s":"Sampled signal","g":"a","x":433.4,"y":0.59},{"s":"Sampled signal","g":"a","x":434.6,"y":0.753},{"s":"Sampled signal","g":"a","x":436.2,"y":0.788},{"s":"Sampled signal","g":"a","x":437,"y":0.264},{"s":"Sampled signal","g":"a","x":437.9,"y":0.508},{"s":"Sampled signal","g":"a","x":439,"y":0.52},{"s":"Sampled signal","g":"a","x":440,"y":0.171},{"s":"Sampled signal","g":"a","x":441.2,"y":0.747},{"s":"Sampled signal","g":"a","x":442.8,"y":0.706},{"s":"Sampled signal","g":"a","x":444.4,"y":0.31},{"s":"Sampled signal","g":"a","x":446.1,"y":0.101},{"s":"Sampled signal","g":"a","x":448.2,"y":0.096},{"s":"Sampled signal","g":"a","x":450.2,"y":0.031},{"s":"Sampled signal","g":"a","x":452.6,"y":0.026},{"s":"Sampled signal","g":"a","x":455.1,"y":0},{"s":"Sampled signal","g":"a","x":500.9,"y":0},{"s":"Sampled signal","g":"a","x":503.4,"y":0.026},{"s":"Sampled signal","g":"a","x":505.8,"y":0.101},{"s":"Sampled signal","g":"a","x":508.3,"y":0.159},{"s":"Sampled signal","g":"a","x":510.7,"y":0.183},{"s":"Sampled signal","g":"a","x":513.6,"y":0.188},{"s":"Sampled signal","g":"a","x":514.8,"y":0},{"s":"Sampled signal","g":"a","x":529,"y":0},{"s":"Sampled signal","g":"a","x":530,"y":0.404},{"s":"Sampled signal","g":"a","x":531.1,"y":0.393},{"s":"Sampled signal","g":"a","x":532.8,"y":0.852},{"s":"Sampled signal","g":"a","x":534,"y":0.869},{"s":"Sampled signal","g":"a","x":535.2,"y":0.765},{"s":"Sampled signal","g":"a","x":537.1,"y":0.765},{"s":"Sampled signal","g":"a","x":538.5,"y":0.747},{"s":"Sampled signal","g":"a","x":541.7,"y":0.555},{"s":"Sampled signal","g":"a","x":545.8,"y":0.253},{"s":"Sampled signal","g":"a","x":549.1,"y":0.055},{"s":"Sampled signal","g":"a","x":550.7,"y":0},{"s":"Sampled signal","g":"a","x":575,"y":0}
]
},
"spacing": 56,
"bounds": "flush",
"vconcat": [
{
"width": 1287, "height": 275,
"data": {"name": "p1"},
"encoding": {
"x": {"field": "x", "type": "quantitative", "scale": {"domain": [-28.75, 603.75], "nice": false, "zero": false}, "axis": {"values": [0,100,200,300,400,500,600], "format": "d", "title": null}},
"y": {"field": "y", "type": "quantitative", "scale": {"domain": [-0.04, 0.84], "nice": false, "zero": false}, "axis": {"values": [0,0.25,0.5,0.75], "format": ".2f", "title": null}},
"color": {"field": "s", "type": "nominal", "scale": {"domain": ["True signal","Reconstructed signal","Sampled signal"], "range": ["#1f77b4","#ff7f0e","#2ca02c"]},
"legend": {"orient": "none", "legendX": 110.3, "legendY": -82, "direction": "horizontal", "title": null, "symbolType": "M-1.465,0H4.735", "symbolSize": 400, "symbolStrokeWidth": 4, "labelFontSize": 29.3, "labelFont": "DejaVu Sans", "labelColor": "black", "labelOffset": 55, "columnPadding": 44, "padding": 11, "strokeColor": "#cccccc", "cornerRadius": 6, "fillColor": "white", "labelLimit": 0}},
"detail": {"field": "g"}
},
"layer": [
{"transform": [{"filter": {"field": "s", "equal": "True signal"}}], "mark": {"type": "line", "strokeWidth": 4, "strokeJoin": "round"}},
{"transform": [{"filter": {"field": "s", "equal": "Reconstructed signal"}}], "mark": {"type": "line", "strokeWidth": 4, "strokeJoin": "round"}},
{"transform": [{"filter": {"field": "s", "equal": "Sampled signal"}}], "mark": {"type": "line", "strokeWidth": 4, "strokeJoin": "round"}}
]
},
{
"width": 1287, "height": 276,
"data": {"name": "p2"},
"encoding": {
"x": {"field": "x", "type": "quantitative", "scale": {"domain": [-28.75, 603.75], "nice": false, "zero": false}, "axis": {"values": [0,100,200,300,400,500,600], "format": "d", "title": null}},
"y": {"field": "y", "type": "quantitative", "scale": {"domain": [-0.045, 0.945], "nice": false, "zero": false}, "axis": {"values": [0,0.25,0.5,0.75], "format": ".2f", "title": "Normalized power (P/Pmax)"}},
"color": {"field": "s", "type": "nominal"},
"detail": {"field": "g"}
},
"layer": [
{"transform": [{"filter": {"field": "s", "equal": "True signal"}}], "mark": {"type": "line", "strokeWidth": 4, "strokeJoin": "round"}},
{"transform": [{"filter": {"field": "s", "equal": "Reconstructed signal"}}], "mark": {"type": "line", "strokeWidth": 4, "strokeJoin": "round"}},
{"transform": [{"filter": {"field": "s", "equal": "Sampled signal"}}], "mark": {"type": "line", "strokeWidth": 4, "strokeJoin": "round"}}
]
},
{
"width": 1287, "height": 275.5,
"data": {"name": "p3"},
"encoding": {
"x": {"field": "x", "type": "quantitative", "scale": {"domain": [-28.75, 603.75], "nice": false, "zero": false}, "axis": {"values": [0,100,200,300,400,500,600], "format": "d", "title": null}},
"y": {"field": "y", "type": "quantitative", "scale": {"domain": [-0.044, 0.919], "nice": false, "zero": false}, "axis": {"values": [0,0.25,0.5,0.75], "format": ".2f", "title": null}},
"color": {"field": "s", "type": "nominal"},
"detail": {"field": "g"}
},
"layer": [
{"transform": [{"filter": {"field": "s", "equal": "True signal"}}], "mark": {"type": "line", "strokeWidth": 4, "strokeJoin": "round"}},
{"transform": [{"filter": {"field": "s", "equal": "Reconstructed signal"}}], "mark": {"type": "line", "strokeWidth": 4, "strokeJoin": "round"}},
{"transform": [{"filter": {"field": "s", "equal": "Sampled signal"}}], "mark": {"type": "line", "strokeWidth": 4, "strokeJoin": "round"}}
]
}
],
"config": {
"font": "DejaVu Sans",
"view": {"stroke": "black", "strokeWidth": 2.4},
"axis": {"domain": false, "grid": false, "ticks": true, "tickColor": "black", "tickSize": 9, "tickWidth": 2.2, "labelFont": "DejaVu Sans", "labelFontSize": 29.3, "labelColor": "black", "titleFont": "DejaVu Sans", "titleFontSize": 29.3, "titleFontWeight": "normal", "titleColor": "black"},
"axisX": {"labelPadding": 11},
"axisY": {"labelPadding": 9.5, "titlePadding": 12}
}
}
